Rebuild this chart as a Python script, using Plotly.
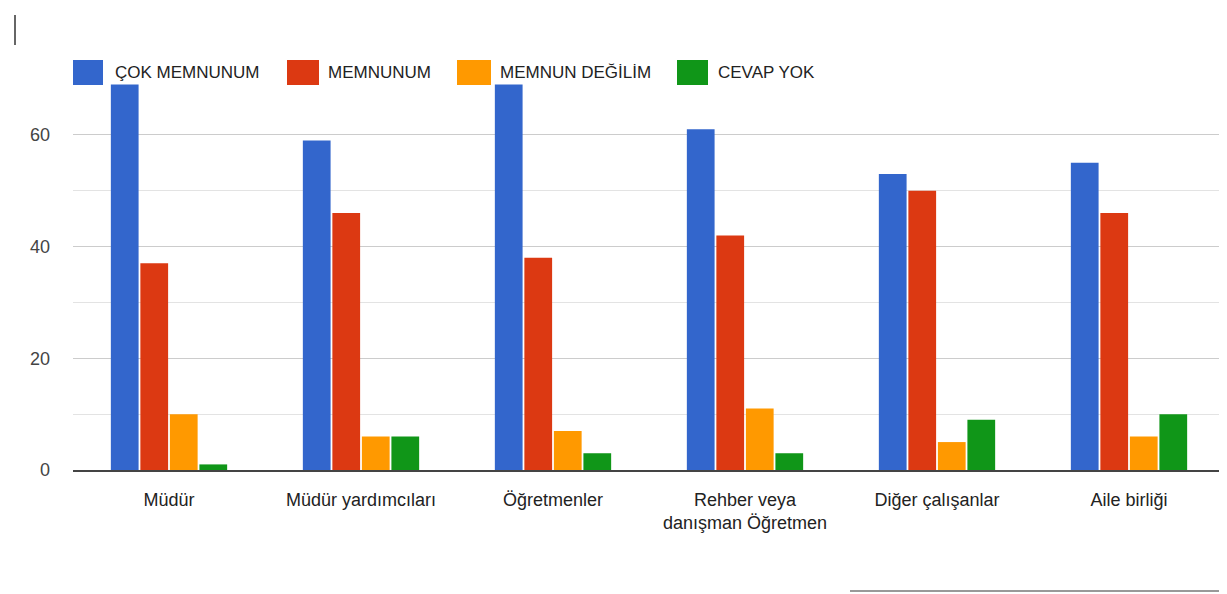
import plotly.graph_objects as go

categories = ["Müdür", "Müdür yardımcıları", "Öğretmenler",
              "Rehber veya<br>danışman Öğretmen", "Diğer çalışanlar", "Aile birliği"]
series_names = ["ÇOK MEMNUNUM", "MEMNUNUM", "MEMNUN DEĞİLİM", "CEVAP YOK"]
cok_memnunum = [69, 59, 69, 61, 53, 55]
memnunum = [37, 46, 38, 42, 50, 46]
memnun_degilim = [10, 6, 7, 11, 5, 6]
cevap_yok = [1, 6, 3, 3, 9, 10]
y_ticks = [0, 20, 40, 60]

colors = ["#3366cc", "#dc3912", "#ff9900", "#109618"]
values = [cok_memnunum, memnunum, memnun_degilim, cevap_yok]

FONT = "Liberation Sans, Arial, sans-serif"

OFF = 8  # page body margin
SW, SH = 1227, 594
W, H = SW - OFF, SH - OFF
L = 73 - OFF
T = 79 - OFF
R = W - (1225 - OFF)
B = H - (470 - OFF)
pw, ph = W - L - R, H - T - B

def px(x):
    return (x - OFF - L) / pw

def py(y):
    return (H - B - (y - OFF)) / ph

fig = go.Figure()
for name, vals, c in zip(series_names, values, colors):
    fig.add_trace(go.Bar(x=categories, y=vals, name=name, marker_color=c,
                         marker_line_width=0, showlegend=False))

shapes = []
annotations = []
legend_pos = [(73, 103, 113), (287, 319, 326), (457, 491, 498), (677, 708, 716)]
for (x0, x1, tx), name, c in zip(legend_pos, series_names, colors):
    shapes.append(dict(type="rect", xref="paper", yref="paper",
                       x0=px(x0), x1=px(x1), y0=py(85), y1=py(60),
                       fillcolor=c, line_width=0, layer="above"))
    annotations.append(dict(xref="paper", yref="paper", x=px(tx), y=py(73),
                            xanchor="left", yanchor="middle", text=name,
                            showarrow=False,
                            font=dict(family=FONT, size=17, color="#222222")))
shapes.append(dict(type="line", xref="paper", yref="paper",
                   x0=px(15), x1=px(15), y0=py(15), y1=py(45),
                   line=dict(color="#333333", width=1.5)))
shapes.append(dict(type="line", xref="paper", yref="paper",
                   x0=px(850), x1=px(1227), y0=py(591), y1=py(591),
                   line=dict(color="#999999", width=2)))

fig.update_layout(
    width=W, height=H,
    margin=dict(l=L, r=R, t=T, b=B),
    paper_bgcolor="white", plot_bgcolor="white",
    barmode="group", bargap=0.385, bargroupgap=0.06,
    font=dict(family=FONT, size=17, color="#222222"),
    shapes=shapes, annotations=annotations,
    xaxis=dict(showgrid=False, ticks="", tickfont=dict(size=18, color="#222222"),
               ticklabelstandoff=12,
               showline=True, linecolor="#444444", linewidth=2),
    yaxis=dict(range=[0, 70], tickvals=y_ticks, showgrid=True, gridcolor="#cccccc",
               gridwidth=1, zeroline=False, ticks="", ticklabelstandoff=22,
               tickfont=dict(size=18, color="#444444"),
               minor=dict(dtick=10, tick0=0, showgrid=True, gridcolor="#e3e3e3",
                          gridwidth=1)),
)

fig.write_html("out.html")
